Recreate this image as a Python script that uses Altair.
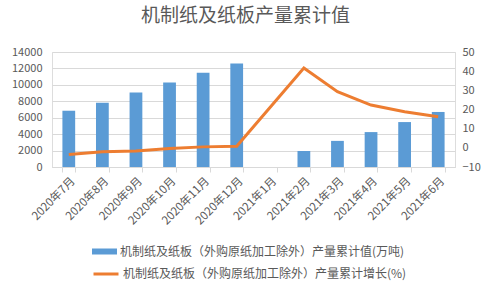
import altair as alt
import pandas as pd

months = ["2020年7月", "2020年8月", "2020年9月", "2020年10月", "2020年11月", "2020年12月",
          "2021年1月", "2021年2月", "2021年3月", "2021年4月", "2021年5月", "2021年6月"]
output = [6850, 7830, 9060, 10280, 11470, 12610, None, 1960, 3180, 4250, 5470, 6700]
growth = [-3.5, -2.1, -1.6, -0.4, 0.5, 0.8, None, 41.6, 29.3, 22.3, 18.8, 16.2]

name_bar = "机制纸及纸板（外购原纸加工除外）产量累计值(万吨)"
name_line = "机制纸及纸板（外购原纸加工除外）产量累计增长(%)"

df = pd.DataFrame({"month": months, "output": output, "growth": growth})
df["s1"] = name_bar
df["s2"] = name_line
bar_df = df.dropna(subset=["output"])
line_df = df.dropna(subset=["growth"])

FONT = "Noto Sans CJK SC"
GRAY = "#595959"

x = alt.X("month:N", sort=months,
          scale=alt.Scale(domain=months, paddingInner=0.62, paddingOuter=0.31),
          axis=alt.Axis(title=None, labelAngle=-45, labelFontSize=11.5, labelColor=GRAY,
                        labelFont=FONT, domainColor="#d9d9d9", tickColor="#d9d9d9",
                        tickBand="extent", tickSize=5, labelPadding=3))

bars = alt.Chart(bar_df).mark_bar(color="#5b9bd5").encode(
    x=x,
    y=alt.Y("output:Q", scale=alt.Scale(domain=[0, 14000], nice=False),
            axis=alt.Axis(title=None, values=list(range(0, 14001, 2000)), grid=True, format="d",
                          gridColor="#d9d9d9", domain=False, ticks=False, labelPadding=10,
                          labelFontSize=11, labelColor=GRAY, labelFont=FONT)),
    color=alt.Color("s1:N", scale=alt.Scale(range=["#5b9bd5"]),
                    legend=alt.Legend(title=None, orient="none", legendX=40, legendY=187,
                                      symbolType="M-1,-0.24H1V0.24H-1Z", symbolSize=625,
                                      symbolStrokeWidth=0, labelFontSize=12, labelColor=GRAY,
                                      labelFont=FONT, labelLimit=500, labelOffset=3)),
)

line = alt.Chart(line_df).mark_line(strokeWidth=3, color="#ed7d31").encode(
    x=x,
    y=alt.Y("growth:Q", scale=alt.Scale(domain=[-10, 50], nice=False),
            axis=alt.Axis(title=None, orient="right", values=list(range(-10, 51, 10)), grid=False,
                          domain=False, ticks=False, labelPadding=7, format="d",
                          labelFontSize=11, labelColor=GRAY, labelFont=FONT)),
    stroke=alt.Stroke("s2:N", scale=alt.Scale(range=["#ed7d31"]),
                      legend=alt.Legend(title=None, orient="none", legendX=40, legendY=208,
                                        symbolType="stroke", symbolSize=625,
                                        symbolStrokeWidth=3, labelFontSize=12, labelColor=GRAY,
                                        labelFont=FONT, labelLimit=500, labelOffset=3)),
)

chart = alt.layer(bars, line).resolve_scale(y="independent", color="independent").properties(
    width=403, height=115,
    title=alt.TitleParams("机制纸及纸板产量累计值", fontSize=19, font=FONT, fontWeight="normal",
                          color=GRAY, anchor="middle", offset=20, dx=-8),
    autosize=alt.AutoSizeParams(type="none"),
    padding={"left": 52, "top": 52, "right": 37, "bottom": 124},
).configure_view(stroke=None).configure(background="white")

chart.save("out.html", embed_options={"renderer": "svg", "actions": False})
